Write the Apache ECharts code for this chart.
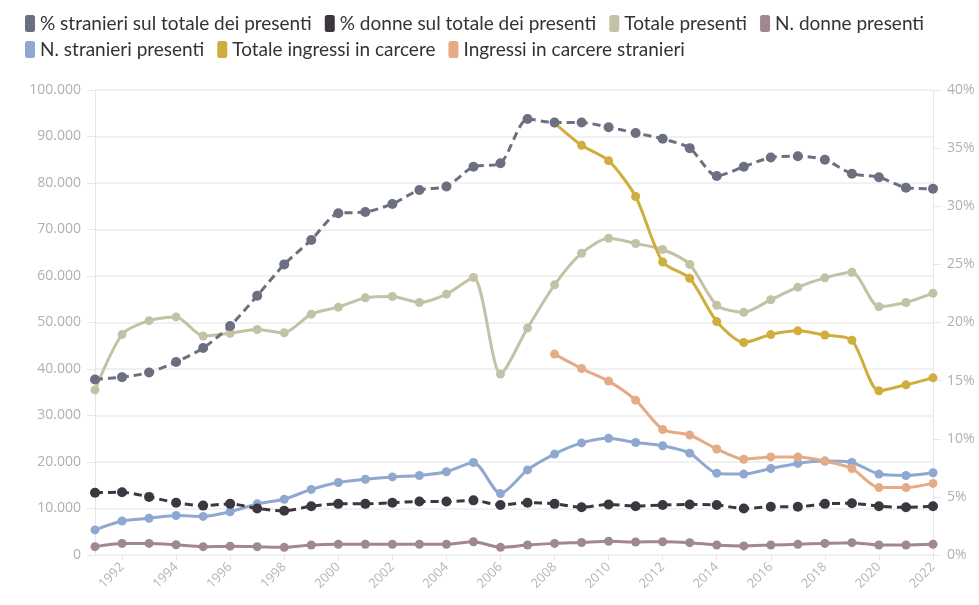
<!DOCTYPE html>
<html><head><meta charset="utf-8">
<script src="https://cdn.jsdelivr.net/npm/echarts@6/dist/echarts.min.js"></script>
<style>html,body{margin:0;padding:0;background:#fff}#c{width:979px;height:605px}</style>
</head><body><div id="c"></div>
<script>
const years = [1991,1992,1993,1994,1995,1996,1997,1998,1999,2000,2001,2002,2003,2004,2005,2006,2007,2008,2009,2010,2011,2012,2013,2014,2015,2016,2017,2018,2019,2020,2021,2022];
const pctStranieri = [15.1,15.3,15.7,16.6,17.8,19.7,22.3,25.0,27.1,29.4,29.5,30.2,31.4,31.7,33.4,33.7,37.5,37.2,37.2,36.8,36.3,35.8,35.0,32.6,33.4,34.2,34.3,34.0,32.8,32.5,31.6,31.5];
const pctDonne = [5.35,5.4,5.0,4.5,4.25,4.4,4.0,3.8,4.2,4.4,4.4,4.5,4.6,4.6,4.7,4.3,4.5,4.4,4.1,4.35,4.2,4.3,4.35,4.3,4.0,4.15,4.15,4.4,4.45,4.2,4.1,4.2];
const totalePresenti = [35500,47400,50400,51200,47100,47700,48500,47800,51800,53300,55300,55600,54300,56100,59700,38900,48800,58100,64900,68100,67000,65700,62500,53700,52200,54900,57600,59600,60800,53400,54300,56300];
const donnePresenti = [1800,2500,2500,2200,1800,1900,1800,1650,2150,2300,2300,2300,2300,2300,2850,1650,2150,2500,2700,2950,2800,2850,2650,2150,1950,2150,2300,2500,2650,2150,2150,2300];
const stranieriPresenti = [5400,7300,7900,8500,8300,9300,11000,12000,14100,15600,16300,16800,17100,17900,19900,13200,18300,21700,24100,25100,24200,23500,21900,17600,17400,18600,19700,20200,19900,17400,17100,17700];
const totaleIngressi = [null,null,null,null,null,null,null,null,null,null,null,null,null,null,null,null,null,92900,88100,84800,77100,63000,59500,50200,45700,47400,48200,47300,46200,35300,36600,38100];
const ingressiStranieri = [null,null,null,null,null,null,null,null,null,null,null,null,null,null,null,null,null,43200,40100,37400,33300,27000,25800,22800,20600,21100,21100,20200,18600,14500,14500,15400];
const seriesNames = ['% stranieri sul totale dei presenti','% donne sul totale dei presenti','Totale presenti','N. donne presenti','N. stranieri presenti','Totale ingressi in carcere','Ingressi in carcere stranieri'];
const leftTicks = {min:0,max:100000,interval:10000};
const rightTicks = {min:0,max:40,interval:5};

const fmt = v => String(v).replace(/\B(?=(\d{3})+(?!\d))/g,'.');
const chart = echarts.init(document.getElementById('c'));
const font = '"Open Sans", sans-serif';
function line(name, data, color, yIdx, dashed){
  return {name, type:'line', data, yAxisIndex:yIdx, smooth:0.25, symbol:'circle', symbolSize:dashed?10:9,
    connectNulls:false, itemStyle:{color}, lineStyle:{color, width:3, type: dashed?[8,5]:'solid'},
    z: dashed?4:3};
}
const legendBase = {left:20, width:950, itemWidth:10, itemHeight:17, itemGap:13, icon:'roundRect',
    textStyle:{fontSize:19, color:'#333', fontFamily:'Lato, sans-serif'}};
chart.setOption({
  animation:false,
  textStyle:{fontFamily:font},
  legend:[
    Object.assign({}, legendBase, {top:9, data:seriesNames.slice(0,4)}),
    Object.assign({}, legendBase, {top:35, data:seriesNames.slice(4)})
  ],
  grid:{left:95, right:46, top:90, bottom:50},
  xAxis:{type:'category', data:years.map(String), boundaryGap:false,
    axisLine:{show:false}, axisTick:{show:true, alignWithLabel:true, interval:(i,v)=>(+v)%2===0, lineStyle:{color:'#e6e6e6'}},
    axisLabel:{rotate:45, color:'#b5b5b5', fontSize:13, interval:(i,v)=>(+v)%2===0, margin:10}},
  yAxis:[
    {type:'value', position:'left', ...leftTicks,
     axisLine:{show:true, lineStyle:{color:'#e6e6e6'}}, axisTick:{show:true, length:8, lineStyle:{color:'#e6e6e6'}},
     splitLine:{lineStyle:{color:'#ececec', width:1.5}},
     axisLabel:{color:'#b0b0b0', fontSize:14, formatter:fmt, margin:14}},
    {type:'value', position:'right', ...rightTicks,
     axisLine:{show:true, lineStyle:{color:'#e6e6e6'}}, axisTick:{show:true, length:8, lineStyle:{color:'#e6e6e6'}},
     splitLine:{show:false},
     axisLabel:{color:'#b0b0b0', fontSize:14, formatter:v=>v+'%', margin:14}}
  ],
  series:[
    line(seriesNames[0], pctStranieri, '#6b6f80', 1, true),
    line(seriesNames[1], pctDonne, '#3b3640', 1, true),
    line(seriesNames[2], totalePresenti, '#c3c2a6', 0, false),
    line(seriesNames[3], donnePresenti, '#a08791', 0, false),
    line(seriesNames[4], stranieriPresenti, '#8fa8d0', 0, false),
    line(seriesNames[5], totaleIngressi, '#cfae3d', 0, false),
    line(seriesNames[6], ingressiStranieri, '#e5ab85', 0, false)
  ]
});
</script></body></html>
